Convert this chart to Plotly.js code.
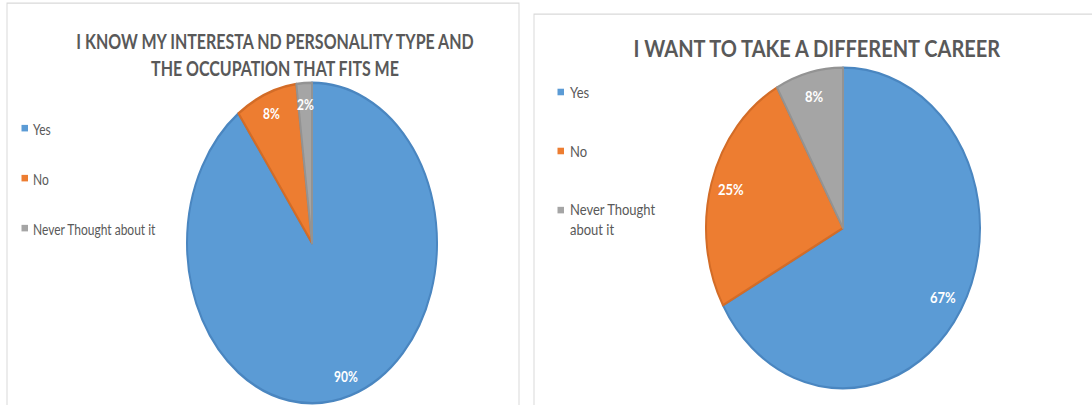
<!DOCTYPE html>
<html>
<head>
<meta charset="utf-8">
<script src="https://cdn.plot.ly/plotly-3.0.1.min.js"></script>
<style>
  html, body { margin: 0; padding: 0; background: #ffffff; width: 1092px; height: 405px; overflow: hidden; }
  .panel { position: absolute; top: 0; transform-origin: 0 0; }
  #left { left: 0px; width: 527px; height: 316px; transform: scaleY(1.2816); }
  #right { left: 527px; width: 565px; height: 346px; transform: scaleY(1.1705); }
</style>
</head>
<body>
<div id="left" class="panel"></div>
<div id="right" class="panel"></div>
<script>
// ---- data ----
const leftTitle = 'I KNOW MY INTERESTA ND PERSONALITY TYPE AND<br>THE OCCUPATION THAT FITS ME';
const leftCategories = ['Yes', 'No', 'Never Thought about it'];
const leftLegendLabels = ['Yes', 'No', 'Never Thought about it'];
const leftValues = [90, 8, 2];

const rightTitle = 'I WANT TO TAKE A DIFFERENT CAREER';
const rightCategories = ['Yes', 'No', 'Never Thought about it'];
const rightLegendLabels = ['Yes', 'No', 'Never Thought<br>about it'];
const rightValues = [67, 25, 8];

const sliceColors = ['#5B9BD5', '#ED7D31', '#A5A5A5'];
const sliceEdges = ['#4A86C0', '#D36C27', '#939393'];

function buildPanel(divId, o) {
  const W = o.width, H = o.height;
  const dx = o.domainX, dy = o.domainY;
  const cxp = (dx[0] + dx[1]) / 2, cyp = (dy[0] + dy[1]) / 2;
  const r = Math.min((dx[1] - dx[0]) * W, (dy[1] - dy[0]) * H) / 2;
  const total = o.values.reduce((a, b) => a + b, 0);

  const trace = {
    type: 'pie',
    labels: o.categories,
    values: o.values,
    sort: false,
    direction: 'clockwise',
    rotation: 0,
    textinfo: 'none',
    hoverinfo: 'none',
    showlegend: false,
    domain: { x: dx, y: dy },
    marker: { colors: sliceColors, line: { color: sliceEdges, width: 2 } }
  };

  const annotations = [];
  // percentage labels placed along each slice's mid angle
  let cum = 0;
  o.values.forEach((v, i) => {
    const mid = (cum + v / 2) / total * 2 * Math.PI;
    cum += v;
    const px = cxp * W + o.labelFrac * r * Math.sin(mid);
    const py = cyp * H + o.labelFrac * r * Math.cos(mid);
    annotations.push({
      xref: 'paper', yref: 'paper', x: px / W, y: py / H,
      xanchor: 'center', yanchor: 'middle', showarrow: false,
      text: '<b>' + Math.round(v / total * 100) + '%</b>',
      font: { family: 'Lato, "Open Sans", sans-serif', size: o.pctSize, color: '#ffffff' }
    });
  });

  const shapes = [];
  // panel frame
  shapes.push({ type: 'rect', xref: 'paper', yref: 'paper',
    x0: o.frame[0], x1: o.frame[1], y0: -0.1, y1: o.frame[2],
    line: { color: '#D9D9D9', width: 1 }, fillcolor: 'rgba(0,0,0,0)' });

  // legend
  o.legendLabels.forEach((lab, i) => {
    const yc = o.legendY[i];
    shapes.push({ type: 'rect', xref: 'paper', yref: 'paper',
      x0: o.legendSqX / W, x1: (o.legendSqX + o.legendSq) / W,
      y0: 1 - (yc + o.legendSqH / 2) / H, y1: 1 - (yc - o.legendSqH / 2) / H,
      line: { width: 0 }, fillcolor: sliceColors[i] });
    annotations.push({
      xref: 'paper', yref: 'paper', x: o.legendTextX / W, y: 1 - o.legendTextY[i] / H,
      xanchor: 'left', yanchor: 'middle', align: 'left', showarrow: false,
      text: lab,
      font: { family: 'Lato, "Open Sans", sans-serif', size: o.legendSize, color: '#595959' }
    });
  });

  const layout = {
    width: W, height: H,
    margin: { l: 0, r: 0, t: 0, b: 0 },
    paper_bgcolor: '#ffffff',
    plot_bgcolor: '#ffffff',
    showlegend: false,
    title: {
      text: '<b>' + o.title + '</b>',
      x: o.titleX, xanchor: 'center', y: o.titleY, yanchor: 'middle',
      xref: 'paper', yref: 'paper',
      font: { family: 'Lato, "Open Sans", sans-serif', size: o.titleSize, color: '#595959' }
    },
    annotations: annotations,
    shapes: shapes
  };
  Plotly.newPlot(divId, [trace], layout, { staticPlot: true, displayModeBar: false });
}

// left panel (layout px; the div is stretched vertically by CSS)
buildPanel('left', {
  width: 527, height: 316,
  domainX: [187 / 527, 437 / 527], domainY: [0.0, 0.8],
  categories: leftCategories, values: leftValues, legendLabels: leftLegendLabels,
  title: leftTitle, titleX: 275 / 527, titleY: 0.878, titleSize: 16,
  labelFrac: 0.87, pctSize: 12,
  frame: [7 / 527, 519 / 527, 1 - 2.4 / 316],
  legendSqX: 21.5, legendSq: 6.5, legendSqH: 5.1,
  legendY: [100, 139, 178], legendTextX: 31, legendTextY: [100, 139, 178], legendSize: 12
});

// right panel
buildPanel('right', {
  width: 565, height: 346,
  domainX: [179 / 565, 453 / 565], domainY: [0.037, 0.837],
  categories: rightCategories, values: rightValues, legendLabels: rightLegendLabels,
  title: rightTitle, titleX: 0.513, titleY: 0.879, titleSize: 20,
  labelFrac: 0.85, pctSize: 13,
  frame: [7 / 565, 1.05, 1 - 12 / 346],
  legendSqX: 30.5, legendSq: 6.5, legendSqH: 5.6,
  legendY: [78.6, 129, 179.5], legendTextX: 41, legendTextY: [78.6, 129, 188], legendSize: 13
});
</script>
</body>
</html>
